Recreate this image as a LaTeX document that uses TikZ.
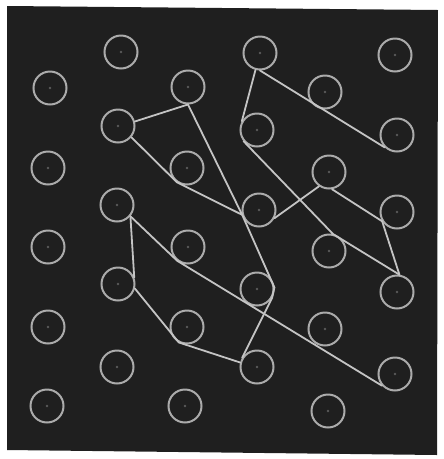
\documentclass[tikz,border=0pt]{standalone}
\definecolor{bgc}{HTML}{1F1F1F}
\definecolor{circ}{HTML}{ABABAB}
\definecolor{linkc}{HTML}{C4C4C4}
\definecolor{dotc}{HTML}{5A5A5A}
\begin{document}
\begin{tikzpicture}[x=1pt,y=-1pt,
  ring/.style={circle,draw=circ,line width=2pt,minimum size=33pt,inner sep=0pt},
  link/.style={draw=linkc,line width=1.8pt,line join=round,line cap=round}]
\useasboundingbox (0,0) rectangle (444,459);
\fill[white] (0,0) rectangle (444,459);
\fill[bgc] (7,6) -- (438,10) -- (437,455) -- (7,450) -- cycle;
% column 1
\node[ring] (a1) at (50,88) {};
\node[ring] (a2) at (48,168) {};
\node[ring] (a3) at (48,247) {};
\node[ring] (a4) at (48,327) {};
\node[ring] (a5) at (47,406) {};
% column 2
\node[ring] (b1) at (121,52) {};
\node[ring] (b2) at (118,126) {};
\node[ring] (b3) at (117,205) {};
\node[ring] (b4) at (118,284) {};
\node[ring] (b5) at (117,367) {};
% column 3
\node[ring] (c1) at (188,87) {};
\node[ring] (c2) at (187,168) {};
\node[ring] (c3) at (188,247) {};
\node[ring] (c4) at (187,327) {};
\node[ring] (c5) at (185,406) {};
% column 4
\node[ring] (d1) at (260,53) {};
\node[ring] (d2) at (257,130) {};
\node[ring] (d3) at (259,210) {};
\node[ring] (d4) at (257,289) {};
\node[ring] (d5) at (257,367) {};
% column 5
\node[ring] (e1) at (325,92) {};
\node[ring] (e2) at (329,172) {};
\node[ring] (e3) at (329,251) {};
\node[ring] (e4) at (325,329) {};
\node[ring] (e5) at (328,411) {};
% column 6
\node[ring] (f1) at (395,55) {};
\node[ring] (f2) at (397,135) {};
\node[ring] (f3) at (397,212) {};
\node[ring] (f4) at (397,292) {};
\node[ring] (f5) at (395,374) {};
% faint centre dots
\foreach \n in {a1,a2,a3,a4,a5,b1,b2,b3,b4,b5,c1,c2,c3,c4,c5,d1,d2,d3,d4,d5,e1,e2,e3,e4,e5,f1,f2,f3,f4,f5}
  \fill[dotc] (\n.center) circle (1.3);
% connectors
\draw[link] (b2.15) -- (c1.south) -- (d3.196) -- (d4.5) -- (d4.-30) -- (d5.148);
\draw[link] (b2.-40) -- (c2.235) -- (d3.196);
\draw[link] (d3.-28) -- (e2.235);
\draw[link] (d1.south) -- (f2.225);
\draw[link] (d1.255) -- (d2.150);
\draw[link] (d2.220) -- (e3.77) -- (f4.82);
\draw[link] (e2.-80) -- (f3.212) -- (f4.82);
\draw[link] (b3.-40) -- (b4.22);
\draw[link] (b3.-40) -- (c3.232) -- (f5.222);
\draw[link] (b4.-15) -- (c4.242) -- (d5.165);
\end{tikzpicture}
\end{document}
